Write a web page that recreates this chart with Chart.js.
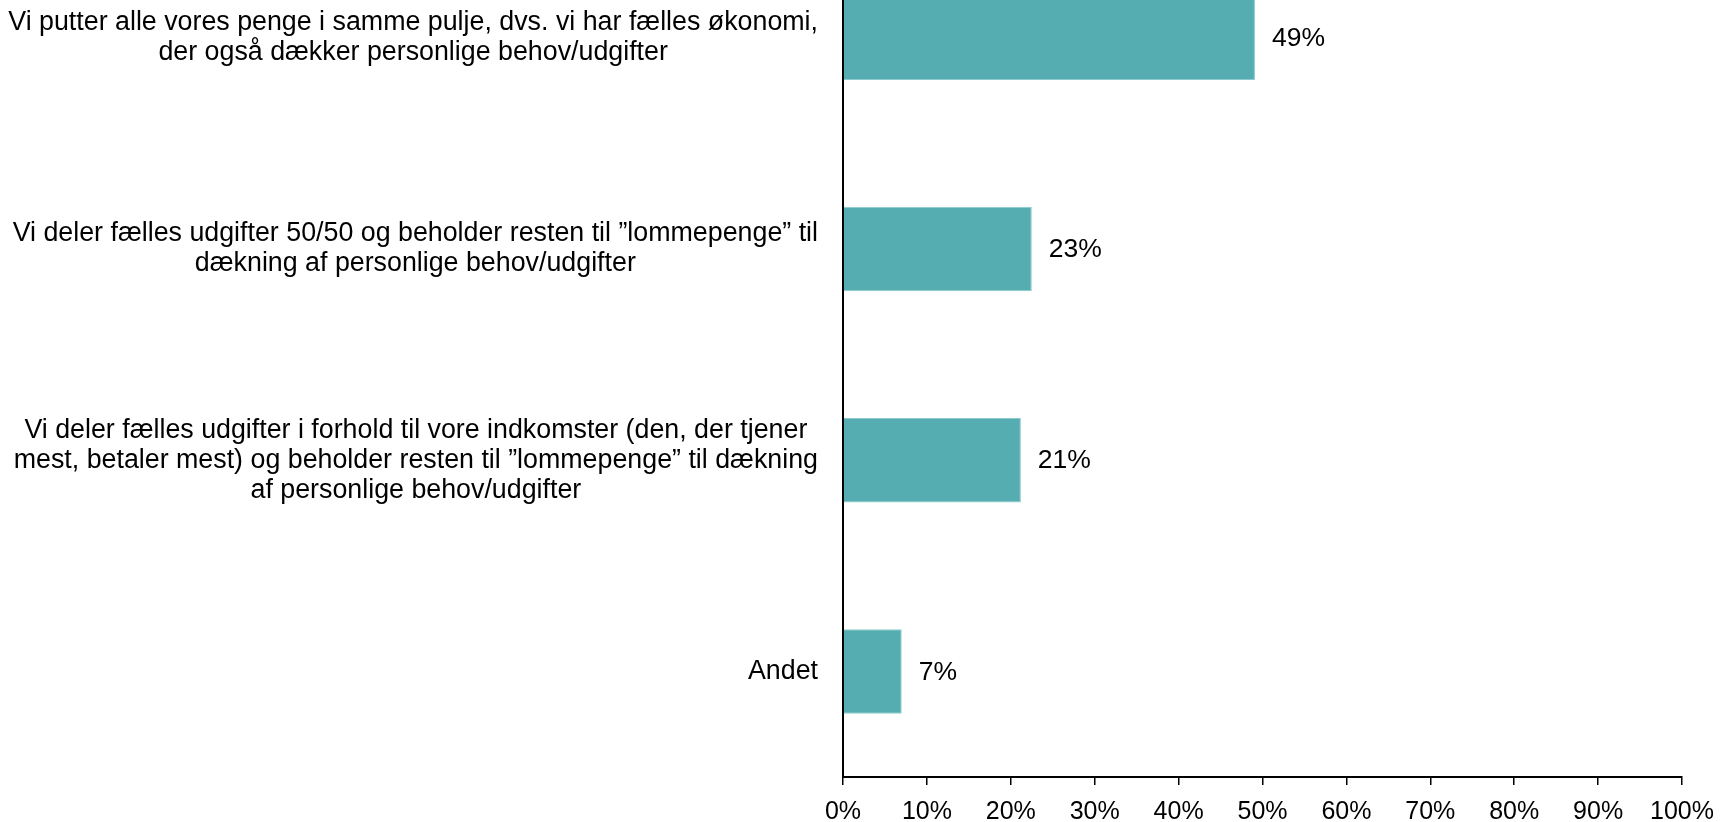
<!DOCTYPE html>
<html>
<head>
<meta charset="utf-8">
<script src="https://cdn.jsdelivr.net/npm/chart.js@4.4.1/dist/chart.umd.min.js"></script>
<style>
  html, body { margin: 0; padding: 0; background: #fff; overflow: hidden; }
  #wrap { position: relative; width: 1721px; height: 822px; overflow: hidden; }
  #box { position: absolute; left: 0; top: -68px; width: 1721px; height: 907px; }
</style>
</head>
<body>
<div id="wrap"><div id="box"><canvas id="grafico"></canvas></div></div>
<script>
// kategorier (linjeskift som i figuren)
const kategorier = [
  ["Vi putter alle vores penge i samme pulje, dvs. vi har fælles økonomi,", "der også dækker personlige behov/udgifter"],
  ["Vi deler fælles udgifter 50/50 og beholder resten til ”lommepenge” til", "dækning af personlige behov/udgifter"],
  ["Vi deler fælles udgifter i forhold til vore indkomster (den, der tjener", "mest, betaler mest) og beholder resten til ”lommepenge” til dækning", "af personlige behov/udgifter"],
  ["Andet"]
];
const andele = [49.1, 22.5, 21.2, 7.0];
const etiketter = ["49%", "23%", "21%", "7%"];
const xTicks = [0, 10, 20, 30, 40, 50, 60, 70, 80, 90, 100];

const FONT = "Liberation Sans, Arial, sans-serif";
const farve = "#55adb1";

// kategori-tekster, centreret linje for linje og højrestillet som blok
const kategoriTekst = {
  id: "kategoriTekst",
  afterDraw(chart) {
    const ctx = chart.ctx;
    const y = chart.scales.y;
    const hoejre = 818;
    const linjeH = 30;
    ctx.save();
    ctx.font = "26.8px " + FONT;
    ctx.fillStyle = "#000";
    ctx.textAlign = "center";
    ctx.textBaseline = "middle";
    kategorier.forEach((linjer, i) => {
      const maks = Math.max(...linjer.map(l => ctx.measureText(l).width));
      const cx = hoejre - maks / 2;
      const cy = y.getPixelForTick(i);
      const start = cy - (linjer.length - 1) * linjeH / 2;
      linjer.forEach((l, j) => ctx.fillText(l, cx, start + j * linjeH));
    });
    ctx.restore();
  }
};

// procent-tal til højre for søjlerne
const vaerdiTekst = {
  id: "vaerdiTekst",
  afterDatasetsDraw(chart) {
    const ctx = chart.ctx;
    const meta = chart.getDatasetMeta(0);
    ctx.save();
    ctx.font = "26.5px " + FONT;
    ctx.fillStyle = "#000";
    ctx.textAlign = "left";
    ctx.textBaseline = "middle";
    meta.data.forEach((bar, i) => {
      ctx.fillText(etiketter[i], bar.x + 17, bar.y + 1);
    });
    ctx.restore();
  }
};

new Chart(document.getElementById("grafico"), {
  type: "bar",
  data: {
    labels: kategorier.map(k => k.join(" ")),
    datasets: [{
      data: andele,
      backgroundColor: farve,
      borderColor: "#8ccacc",
      borderWidth: 1,
      categoryPercentage: 1,
      barPercentage: 0.4
    }]
  },
  options: {
    indexAxis: "y",
    responsive: true,
    maintainAspectRatio: false,
    animation: false,
    layout: { padding: { left: 0, right: 39, top: 0, bottom: 0 } },
    plugins: {
      legend: { display: false },
      tooltip: { enabled: false }
    },
    scales: {
      x: {
        min: 0,
        max: 100,
        afterBuildTicks(scale) {
          scale.ticks = xTicks.map(v => ({ value: v }));
        },
        afterFit(scale) { scale.paddingRight = 0; scale.paddingLeft = 0; },
        grid: {
          drawOnChartArea: false,
          drawTicks: true,
          tickLength: 8,
          color: "#000",
          lineWidth: 1.5
        },
        border: { display: true, color: "#000", width: 2 },
        ticks: {
          padding: 12,
          color: "#000",
          font: { family: FONT, size: 25 },
          callback: v => v + "%"
        }
      },
      y: {
        grid: { display: false },
        border: { display: true, color: "#000", width: 2 },
        ticks: { display: false },
        afterFit(scale) { scale.width = 843; }
      }
    }
  },
  plugins: [kategoriTekst, vaerdiTekst]
});
</script>
</body>
</html>
